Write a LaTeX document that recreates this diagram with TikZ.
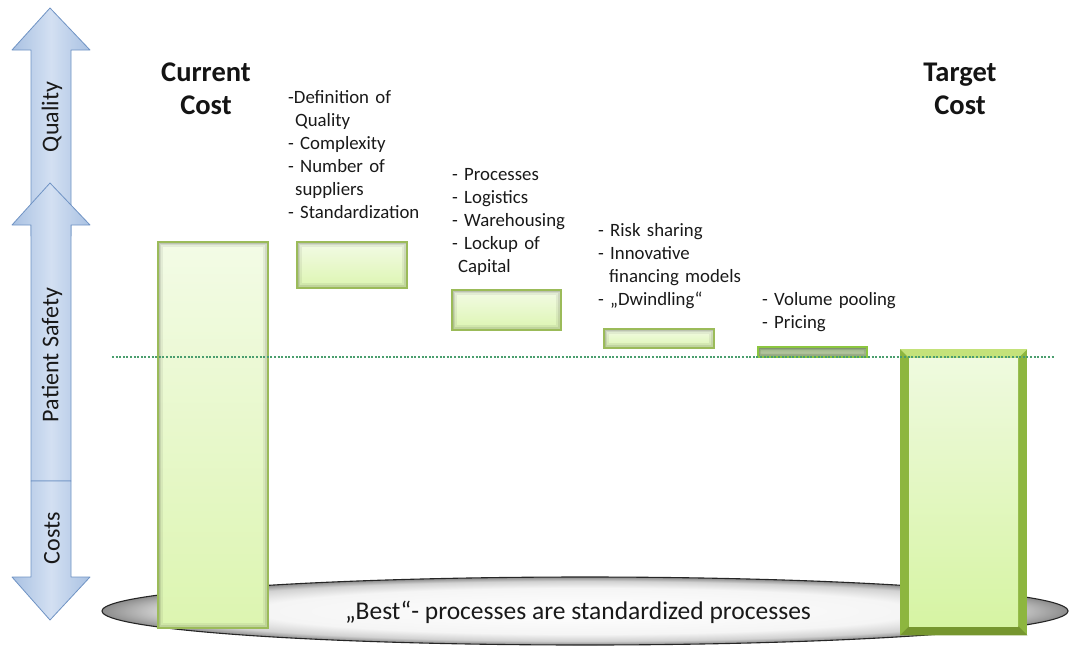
\documentclass[tikz,border=0pt]{standalone}
\usepackage{fontspec}
\setmainfont{Carlito}
\usetikzlibrary{shapes.geometric}

\definecolor{barline}{HTML}{9BBB59}
\definecolor{bartop}{HTML}{F3FBE6}
\definecolor{barbot}{HTML}{DCF5B0}
\definecolor{darkbarfill}{HTML}{9FB98A}
\definecolor{darkbarmid}{HTML}{BCD0A6}
\definecolor{darkbarline}{HTML}{8CC63F}
\definecolor{arrowfill}{HTML}{A9C1E2}
\definecolor{arrowmid}{HTML}{D3E0F2}
\definecolor{arrowline}{HTML}{6F93C4}
\definecolor{guide}{HTML}{4A9E6E}
\definecolor{frameside}{HTML}{8DB63F}
\definecolor{frametop}{HTML}{C4E27A}
\definecolor{framebot}{HTML}{76962F}
\definecolor{targettop}{HTML}{EFFADF}
\definecolor{targetbot}{HTML}{D6F4A3}

% light centre, grey rim
\pgfdeclareradialshading{rimshade}{\pgfpoint{0bp}{0bp}}{%
  color(0bp)=(white); color(17bp)=(white!96!black); color(22bp)=(white!82!black);
  color(25bp)=(white!55!black); color(50bp)=(white!55!black)}

\tikzset{
  axisarrow/.style={draw=arrowline, line width=0.8pt, line join=round,
    left color=arrowfill, right color=arrowfill, middle color=arrowmid},
  axislabel/.style={rotate=90, font=\fontsize{24}{26}\selectfont, text=black!90},
  barbox/.style={draw=#1, line width=1.4pt, anchor=north west, inner sep=0pt,
    top color=bartop, bottom color=barbot,
    path picture={
      \draw[black, opacity=0.06, line width=11pt]
        (path picture bounding box.south west) rectangle (path picture bounding box.north east);
      \draw[black, opacity=0.08, line width=7pt]
        (path picture bounding box.south west) rectangle (path picture bounding box.north east);
      \draw[black, opacity=0.10, line width=4pt]
        (path picture bounding box.south west) rectangle (path picture bounding box.north east);
      \draw[#1, line width=2.6pt]
        (path picture bounding box.south west) rectangle (path picture bounding box.north east);
    }},
  barbox/.default=barline,
  darkbar/.style={barbox=darkbarline, top color=darkbarfill, bottom color=darkbarfill,
    middle color=darkbarmid},
  title/.style={font=\fontsize{28.5}{33}\selectfont\bfseries, align=center,
    text width=160pt, anchor=base, inner sep=0pt, text=black!92},
  listtext/.style={font=\fontsize{18.8}{23}\selectfont, align=left,
    text width=200pt, anchor=base west, inner sep=0pt, text=black!90},
}

\begin{document}
\begin{tikzpicture}[x=1pt, y=-1pt]
\useasboundingbox (0,0) rectangle (1070,648);

% base ellipse with its caption
\node[ellipse, draw=black!85, line width=1.1pt, inner sep=0pt,
      minimum width=966pt, minimum height=68pt, shading=rimshade] (base) at (585,611) {};
\node[font=\fontsize{25.5}{28}\selectfont, text=black!90] (basetext) at (578,612)
  {„Best“- processes are standardized processes};

% vertical axis arrows
\path[axisarrow] (50,8) -- (90,50) -- (71,50) -- (71,236) -- (31,236) -- (31,50) -- (12,50) -- cycle;
\path[axisarrow] (50,183) -- (90,225) -- (71,225) -- (71,481) -- (31,481) -- (31,225) -- (12,225) -- cycle;
\path[axisarrow] (31,481) -- (71,481) -- (71,577) -- (90,577) -- (50,620) -- (12,577) -- (31,577) -- cycle;
\node[axislabel] (quality) at (52,117) {Quality};
\node[axislabel] (safety) at (52,355) {Patient Safety};
\node[axislabel] (costs) at (52,538) {Costs};

% titles
\node[title] (curtitle) at (206,81) {Current\\Cost};
\node[title] (tgttitle) at (960,81) {Target\\Cost};

% waterfall bars
\node[barbox, minimum width=111pt, minimum height=387pt] (current) at (157,241) {};
\node[barbox, minimum width=111pt, minimum height=47pt] (step1) at (296,241) {};
\node[barbox, minimum width=110pt, minimum height=41pt] (step2) at (451,289) {};
\node[barbox, minimum width=111pt, minimum height=20pt] (step3) at (603,328) {};
\node[darkbar, minimum width=110pt, minimum height=11pt] (step4) at (757,346) {};

% target bar with bevelled frame
\node[anchor=north west, inner sep=0pt, minimum width=127pt, minimum height=286pt,
      fill=frameside] (target) at (900,349) {};
\fill[frametop] (target.north west) -- (target.north east) -- ([xshift=-9pt,yshift=-9pt]target.north east)
  -- ([xshift=9pt,yshift=-9pt]target.north west) -- cycle;
\fill[framebot] (target.south west) -- (target.south east) -- ([xshift=-9pt,yshift=9pt]target.south east)
  -- ([xshift=9pt,yshift=9pt]target.south west) -- cycle;
\node[anchor=north west, inner sep=0pt, minimum width=109pt, minimum height=268pt,
      top color=targettop, bottom color=targetbot] (targetin) at (909,358) {};

% target level guide
\coordinate (gl) at (112,357);
\coordinate (gr) at (1055,357);
\draw[guide, line width=1.1pt, dash pattern=on 2pt off 1.6pt] (gl) -- (gr);

% cost driver lists
\node[listtext] (list1) at (288,103)
  {-Definition of\\\hspace*{7pt}Quality\\- Complexity\\- Number of\\\hspace*{7pt}suppliers\\- Standardization};
\node[listtext] (list2) at (452,180)
  {- Processes\\- Logistics\\- Warehousing\\- Lockup of\\\hspace*{6pt}Capital};
\node[listtext] (list3) at (598,236)
  {- Risk sharing\\- Innovative\\\hspace*{11pt}financing models\\- „Dwindling“};
\node[listtext] (list4) at (762,305)
  {- Volume pooling\\- Pricing};
\end{tikzpicture}
\end{document}
